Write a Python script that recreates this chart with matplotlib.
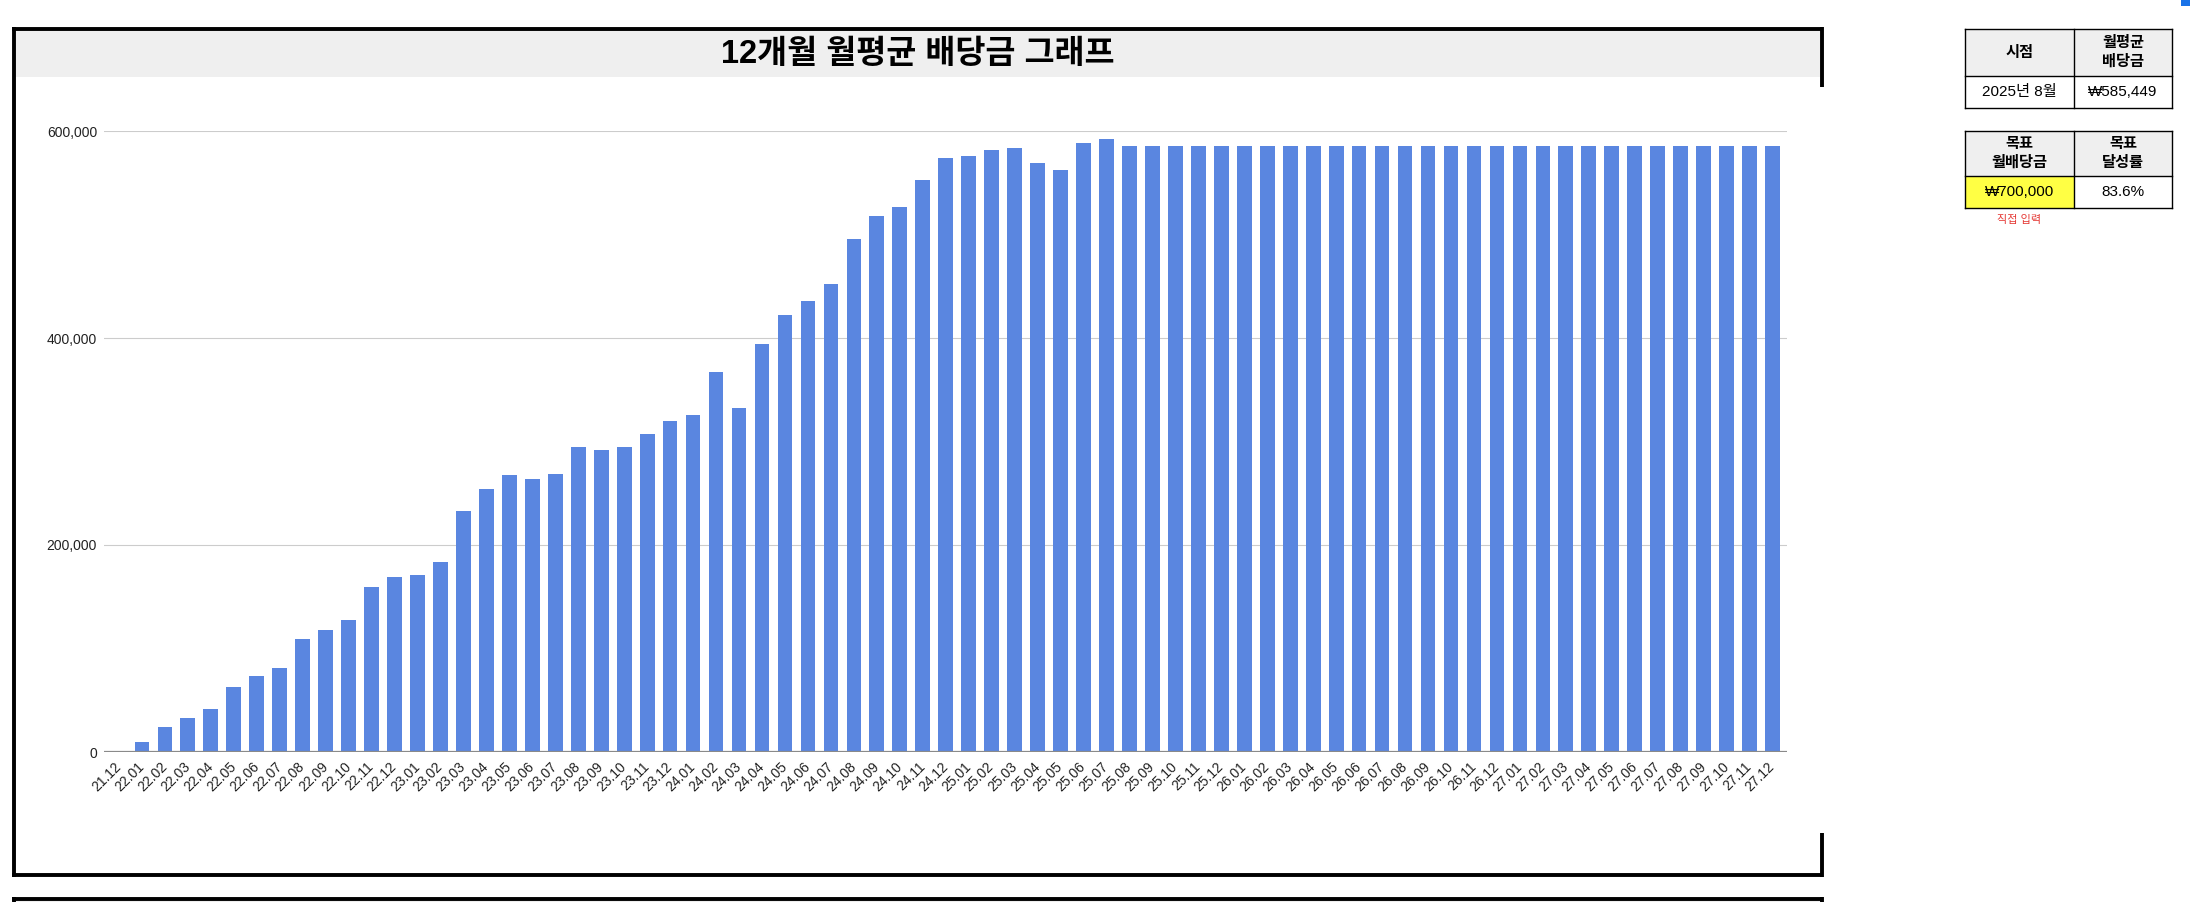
import matplotlib.pyplot as plt
from matplotlib.patches import Rectangle
from matplotlib.ticker import FuncFormatter

# Monthly labels, 21.12 .. 27.12
months = ["21.12"] + [f"{y}.{m:02d}" for y in range(22, 28) for m in range(1, 13)]

# 12-month average monthly dividend (KRW)
values = [
    0, 10000, 24000, 33000, 42000, 63000, 73000, 81000, 109000, 118000, 128000, 159000,
    169000, 171000, 184000, 233000, 254000, 268000, 264000, 269000, 295000, 292000, 295000, 307000,
    320000, 326000, 367000, 332000, 394000, 422000, 436000, 452000, 496000, 518000, 527000, 553000,
    574000, 576000, 582000, 584000, 569000, 562000, 588000, 592000,
] + [585449] * 29

y_ticks = [0, 200000, 400000, 600000]

title = "12개월 월평균 배당금 그래프"
table1_head = ["시점", "월평균\n배당금"]
table1_row = ["2025년 8월", "₩585,449"]
table2_head = ["목표\n월배당금", "목표\n달성률"]
table2_row = ["₩700,000", "83.6%"]
note = "직접 입력"

FONT = ["Liberation Sans", "Noto Sans CJK KR", "DejaVu Sans"]
plt.rcParams["font.family"] = FONT

W, H = 2190, 902
fig = plt.figure(figsize=(W / 100, H / 100), dpi=100)

# overlay in pixel coordinates for the sheet decorations
bg = fig.add_axes([0, 0, 1, 1], zorder=0)
bg.set_xlim(0, W)
bg.set_ylim(H, 0)
bg.axis("off")

# chart frame
bg.add_patch(Rectangle((15, 31), 1805, 46, facecolor="#efefef", edgecolor="none"))
blw = 2.8
bg.plot([12, 1823], [29, 29], color="black", lw=blw, solid_capstyle="butt")
bg.plot([13.5, 13.5], [27, 877], color="black", lw=blw, solid_capstyle="butt")
bg.plot([12, 1823], [875, 875], color="black", lw=blw, solid_capstyle="butt")
bg.plot([1821.5, 1821.5], [27, 87], color="black", lw=blw, solid_capstyle="butt")
bg.plot([1821.5, 1821.5], [833, 877], color="black", lw=blw, solid_capstyle="butt")
bg.text(918, 54, title, ha="center", va="center", fontsize=23.5, fontweight="bold",
        color="black")

# next frame peeking at bottom
bg.add_patch(Rectangle((15, 899), 1805, 10, facecolor="#efefef", edgecolor="none"))
bg.plot([12, 1823], [899, 899], color="black", lw=blw, solid_capstyle="butt")
bg.plot([13.5, 13.5], [897, 905], color="black", lw=blw, solid_capstyle="butt")
bg.plot([1821.5, 1821.5], [897, 905], color="black", lw=blw, solid_capstyle="butt")

# small selection handle in the corner
bg.add_patch(Rectangle((2181, 0), 9, 6, facecolor="#1a73e8", edgecolor="none"))


def draw_table(y0, y1, y2, head, row, left_fill="white"):
    xs = [1965, 2074, 2172]
    bg.add_patch(Rectangle((xs[0], y0), xs[2] - xs[0], y1 - y0, facecolor="#efefef",
                           edgecolor="none"))
    bg.add_patch(Rectangle((xs[0], y1), xs[1] - xs[0], y2 - y1, facecolor=left_fill,
                           edgecolor="none"))
    for yy in (y0, y1, y2):
        bg.plot([xs[0], xs[2]], [yy, yy], color="black", lw=1.0)
    for xx in xs:
        bg.plot([xx, xx], [y0, y2], color="black", lw=1.0)
    for i in range(2):
        cx = (xs[i] + xs[i + 1]) / 2
        bg.text(cx, (y0 + y1) / 2, head[i], ha="center", va="center", fontsize=11,
                fontweight="bold", linespacing=1.4)
        bg.text(cx, (y1 + y2) / 2, row[i], ha="center", va="center", fontsize=11)


draw_table(29, 76, 108, table1_head, table1_row)
draw_table(131, 176, 208, table2_head, table2_row, left_fill="#ffff44")
bg.text(2019.5, 220, note, ha="center", va="center", fontsize=8, color="#e53935")

# the bar chart
ax = fig.add_axes([104 / W, 1 - 752 / H, (1787 - 104) / W, (752 - 131) / H], zorder=1)
ax.patch.set_alpha(0)
x = list(range(len(months)))
ax.bar(x, values, width=0.64, color="#5a86e0", zorder=3)
ax.set_xlim(-0.65, len(months) - 0.37)
ax.set_ylim(0, 600000)
ax.set_yticks(y_ticks)
ax.yaxis.set_major_formatter(FuncFormatter(lambda v, p: f"{int(v):,}"))
ax.grid(axis="y", color="#cccccc", lw=0.8, zorder=0)
ax.axhline(0, color="#8a8a8a", lw=1.6, zorder=4)
for s in ax.spines.values():
    s.set_visible(False)
ax.tick_params(axis="y", length=0, pad=5, labelsize=10, labelcolor="#222222")
ax.tick_params(axis="x", length=0, pad=9, labelsize=10, labelcolor="#222222")
ax.set_xticks(x)
ax.set_xticklabels(months, rotation=45, ha="right", va="center", rotation_mode="anchor")

fig.savefig("out.png", dpi=100)
